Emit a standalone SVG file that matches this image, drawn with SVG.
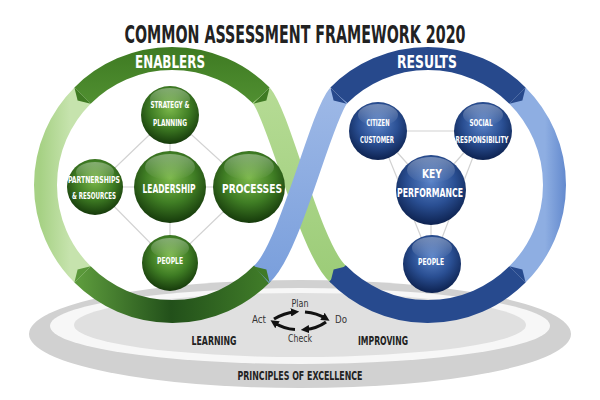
<svg xmlns="http://www.w3.org/2000/svg" width="600" height="400" viewBox="0 0 600 400">
<defs>
<radialGradient id="sg" cx="50%" cy="38%" r="62%">
<stop offset="0" stop-color="#7bb84a"/><stop offset="0.55" stop-color="#3f7d24"/><stop offset="1" stop-color="#163a0b"/>
</radialGradient>
<radialGradient id="sb" cx="50%" cy="38%" r="62%">
<stop offset="0" stop-color="#5a83c8"/><stop offset="0.55" stop-color="#2a4f93"/><stop offset="1" stop-color="#0d2250"/>
</radialGradient>
<linearGradient id="hl" x1="0" y1="0" x2="0" y2="1">
<stop offset="0" stop-color="#fff" stop-opacity="0.35"/><stop offset="1" stop-color="#fff" stop-opacity="0"/>
</linearGradient>
<linearGradient id="gbot" gradientUnits="userSpaceOnUse" x1="80" y1="0" x2="262" y2="0">
<stop offset="0" stop-color="#5c9a3c"/><stop offset="0.5" stop-color="#22501a"/><stop offset="1" stop-color="#3f7a28"/>
</linearGradient>
<linearGradient id="gtop" gradientUnits="userSpaceOnUse" x1="0" y1="47" x2="0" y2="100">
<stop offset="0" stop-color="#3e7a22"/><stop offset="1" stop-color="#4f8e30"/>
</linearGradient>
<linearGradient id="glt" gradientUnits="userSpaceOnUse" x1="40" y1="0" x2="70" y2="0">
<stop offset="0" stop-color="#a6d184"/><stop offset="1" stop-color="#c6e3ad"/>
</linearGradient>
<linearGradient id="gstr" gradientUnits="userSpaceOnUse" x1="0" y1="95" x2="0" y2="280">
<stop offset="0" stop-color="#b5db94"/><stop offset="1" stop-color="#9ccc78"/>
</linearGradient>
<linearGradient id="bstr" gradientUnits="userSpaceOnUse" x1="0" y1="95" x2="0" y2="280">
<stop offset="0" stop-color="#9db8e6"/><stop offset="1" stop-color="#7a9fdc"/>
</linearGradient>
<linearGradient id="blt" gradientUnits="userSpaceOnUse" x1="545" y1="0" x2="568" y2="0">
<stop offset="0" stop-color="#8eaee2"/><stop offset="1" stop-color="#5f86cc"/>
</linearGradient>
<marker id="ah" viewBox="0 0 10 10" refX="5" refY="5" markerWidth="2.6" markerHeight="2.6" orient="auto">
<path d="M0,0 L10,5 L0,10 z" fill="#111"/>
</marker>
<style>
.t{font-family:"Liberation Sans Narrow","DejaVu Sans Condensed","Liberation Sans",sans-serif;font-weight:bold;text-anchor:middle}
.w{fill:#fff}
.k{fill:#222}
.n{font-family:"Liberation Sans Narrow","DejaVu Sans Condensed","Liberation Sans",sans-serif;text-anchor:middle;fill:#333}
.ln{stroke:#d2d2d2;stroke-width:1.2;fill:none}
.band{fill:none;stroke-width:23;stroke-linecap:butt}
.arr{fill:none;stroke:#111;stroke-width:3.2;marker-end:url(#ah)}
</style>
</defs>
<rect width="600" height="400" fill="#fff"/>
<text class="t k" transform="translate(295,43) scale(0.66,1)" x="0" y="0" font-size="24">COMMON ASSESSMENT FRAMEWORK 2020</text>
<g id="base">
<ellipse cx="300" cy="334" rx="271" ry="54" fill="#d1d1d1"/>
<ellipse cx="300" cy="326" rx="250" ry="38" fill="#f7f7f7"/>
<ellipse cx="300" cy="325" rx="226" ry="32" fill="#e0e0e0"/>
</g>
<g id="rings">
<path class="band" stroke="url(#glt)" d="M82.55,274.45 A126.5,126.5 0 0 1 82.55,95.55"/>
<path class="band" stroke="url(#gtop)" d="M82.55,95.55 A126.5,126.5 0 0 1 261.45,95.55"/>
<path class="band" stroke="url(#gbot)" d="M262.5,273.4 A126.5,126.5 0 0 1 82.55,274.45"/>
<path class="band" stroke="url(#gstr)" d="M261.45,95.55 C280,118 310,250 338.55,274.45"/>
<path class="band" stroke="url(#blt)" d="M517.45,95.55 A126.5,126.5 0 0 1 517.45,274.45"/>
<path class="band" stroke="#27498c" d="M338.55,95.55 A126.5,126.5 0 0 1 517.45,95.55"/>
<path class="band" stroke="#274a8e" d="M517.45,274.45 A126.5,126.5 0 0 1 337.5,273.4"/>
<path class="band" stroke="url(#bstr)" d="M338.55,95.55 C320,118 290,250 261.45,274.45"/>
<polygon fill="#3f7b23" points="74.42,87.42 77.6,100.5 90.68,103.68"/>
<polygon fill="#3f7b23" points="269.58,87.42 266.4,100.5 253.32,103.68"/>
<polygon fill="#5a983a" points="74.42,282.58 77.6,269.5 90.68,266.32"/>
<polygon fill="#3f7a28" points="269.58,282.58 266.4,269.5 253.32,266.32"/>
<polygon fill="#27498c" points="330.42,87.42 333.6,100.5 346.68,103.68"/>
<polygon fill="#27498c" points="525.58,87.42 522.4,100.5 509.32,103.68"/>
<polygon fill="#274a8e" points="525.58,282.58 522.4,269.5 509.32,266.32"/>
<polygon fill="#274a8e" points="330.42,282.58 333.6,269.5 346.68,266.32"/>
</g>
<text class="t w" x="170" y="68" font-size="17" textLength="70" lengthAdjust="spacingAndGlyphs">ENABLERS</text>
<text class="t w" x="427" y="68" font-size="17" textLength="60" lengthAdjust="spacingAndGlyphs">RESULTS</text>
<g id="connectors">
<path class="ln" d="M170,115 L95,187 L170,263 L249,187 Z M170,115 V263 M95,187 H249"/>
<path class="ln" d="M378,131 H483 M378,131 L431,190 L483,131 M378,131 L432,264 L483,131 M431,190 V264"/>
</g>
<g id="strategy">
<circle cx="170" cy="115" r="29" fill="url(#sg)"/><ellipse cx="170" cy="99" rx="20" ry="11" fill="url(#hl)"/>
<text class="t w" x="170" y="108" font-size="8" textLength="39" lengthAdjust="spacingAndGlyphs">STRATEGY &amp;</text>
<text class="t w" x="170" y="126" font-size="8" textLength="34" lengthAdjust="spacingAndGlyphs">PLANNING</text>
</g>
<g id="leadership">
<circle cx="170" cy="187" r="36" fill="url(#sg)"/><ellipse cx="170" cy="167" rx="25" ry="13" fill="url(#hl)"/>
<text class="t w" x="169" y="193" font-size="13" textLength="53" lengthAdjust="spacingAndGlyphs">LEADERSHIP</text>
</g>
<g id="processes">
<circle cx="249" cy="187" r="36" fill="url(#sg)"/><ellipse cx="249" cy="167" rx="25" ry="13" fill="url(#hl)"/>
<text class="t w" x="252" y="193" font-size="13" textLength="60" lengthAdjust="spacingAndGlyphs">PROCESSES</text>
</g>
<g id="partnerships">
<circle cx="95" cy="187" r="28" fill="url(#sg)"/><ellipse cx="95" cy="172" rx="19" ry="10" fill="url(#hl)"/>
<text class="t w" x="94" y="183" font-size="8.5" textLength="52" lengthAdjust="spacingAndGlyphs">PARTNERSHIPS</text>
<text class="t w" x="94" y="199" font-size="8.5" textLength="44" lengthAdjust="spacingAndGlyphs">&amp; RESOURCES</text>
</g>
<g id="people-e">
<circle cx="170" cy="263" r="28" fill="url(#sg)"/><ellipse cx="170" cy="248" rx="19" ry="10" fill="url(#hl)"/>
<text class="t w" x="170" y="264" font-size="8" textLength="26" lengthAdjust="spacingAndGlyphs">PEOPLE</text>
</g>
<g id="citizen">
<circle cx="378" cy="131" r="29" fill="url(#sb)"/><ellipse cx="378" cy="115" rx="20" ry="11" fill="url(#hl)"/>
<text class="t w" x="378" y="126" font-size="8" textLength="23" lengthAdjust="spacingAndGlyphs">CITIZEN</text>
<text class="t w" x="377" y="143" font-size="8" textLength="34" lengthAdjust="spacingAndGlyphs">CUSTOMER</text>
</g>
<g id="social">
<circle cx="483" cy="131" r="29" fill="url(#sb)"/><ellipse cx="483" cy="115" rx="20" ry="11" fill="url(#hl)"/>
<text class="t w" x="481" y="126" font-size="8" textLength="23" lengthAdjust="spacingAndGlyphs">SOCIAL</text>
<text class="t w" x="482" y="143" font-size="8" textLength="53" lengthAdjust="spacingAndGlyphs">RESPONSIBILITY</text>
</g>
<g id="key">
<circle cx="431" cy="190" r="35" fill="url(#sb)"/><ellipse cx="431" cy="170" rx="24" ry="13" fill="url(#hl)"/>
<text class="t w" x="432" y="178" font-size="12" textLength="20" lengthAdjust="spacingAndGlyphs">KEY</text>
<text class="t w" x="430" y="197" font-size="12" textLength="66" lengthAdjust="spacingAndGlyphs">PERFORMANCE</text>
</g>
<g id="people-r">
<circle cx="432" cy="264" r="29" fill="url(#sb)"/><ellipse cx="432" cy="248" rx="20" ry="11" fill="url(#hl)"/>
<text class="t w" x="431" y="265" font-size="8" textLength="26" lengthAdjust="spacingAndGlyphs">PEOPLE</text>
</g>
<g id="cycle">
<path class="arr" d="M274,319 Q284,313 295,312"/>
<path class="arr" d="M305,312 Q317,313 326,318.5"/>
<path class="arr" d="M326,322 Q317,328.5 305,329.5"/>
<path class="arr" d="M295,329.5 Q284,329 274,322.5"/>
<text class="n" x="300" y="307" font-size="10" textLength="17" lengthAdjust="spacingAndGlyphs">Plan</text>
<text class="n" x="259" y="323" font-size="10" textLength="14" lengthAdjust="spacingAndGlyphs">Act</text>
<text class="n" x="341" y="323" font-size="10" textLength="12" lengthAdjust="spacingAndGlyphs">Do</text>
<text class="n" x="300" y="342" font-size="10" textLength="24" lengthAdjust="spacingAndGlyphs">Check</text>
</g>
<text class="t k" x="214" y="345" font-size="13" textLength="45" lengthAdjust="spacingAndGlyphs">LEARNING</text>
<text class="t k" x="383" y="345" font-size="13" textLength="50" lengthAdjust="spacingAndGlyphs">IMPROVING</text>
<text class="t k" x="300" y="380" font-size="13" textLength="125" lengthAdjust="spacingAndGlyphs">PRINCIPLES OF EXCELLENCE</text>
</svg>
